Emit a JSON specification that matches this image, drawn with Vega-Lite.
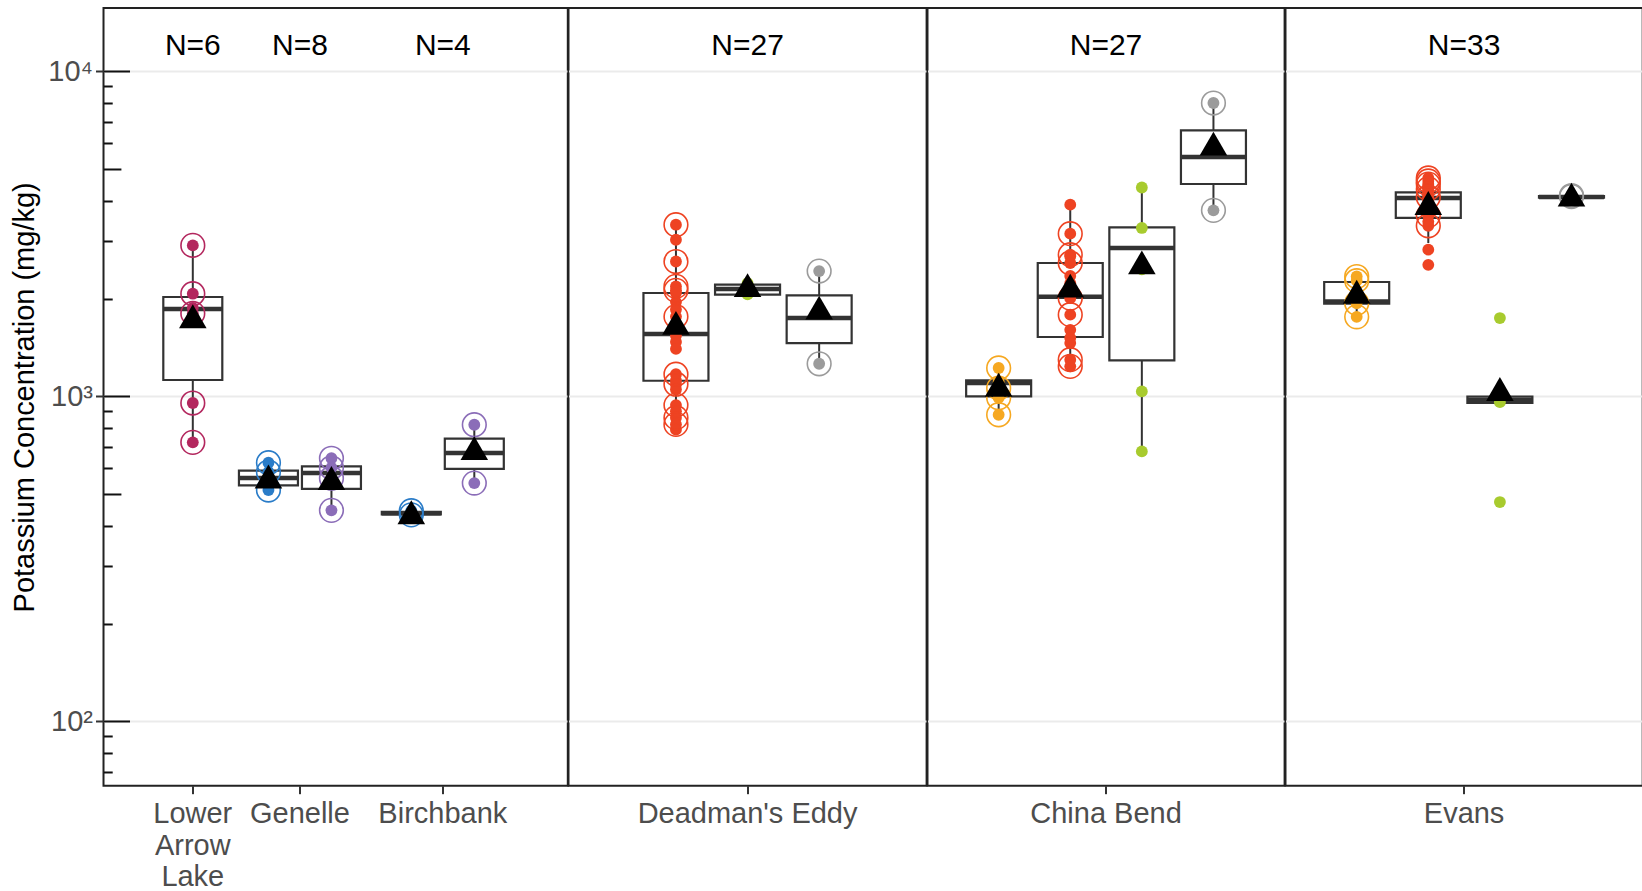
{
  "$schema": "https://vega.github.io/schema/vega-lite/v6.json",
  "background": "white",
  "padding": {"left": 9.5, "top": 7, "right": 0, "bottom": 0},
  "config": {
    "font": "Liberation Sans",
    "view": {"stroke": "#222222", "strokeWidth": 2},
    "axis": {"labelFont": "Liberation Sans", "titleFont": "Liberation Sans", "labelFontSize": 29, "labelColor": "#4D4D4D", "tickColor": "#333333", "tickWidth": 2, "gridColor": "#EBEBEB", "gridWidth": 2, "domain": false, "labelLimit": 500},
    "axisX": {"tickSize": 8, "labelPadding": 6, "labelLineHeight": 31.4, "labelAngle": 0, "grid": false},
    "legend": {"disable": true}
  },
  "datasets": {
    "points": [
      {"site": "Lower Arrow Lake", "group": "A", "value": 2915, "flag": "yes"},
      {"site": "Lower Arrow Lake", "group": "A", "value": 2070, "flag": "yes"},
      {"site": "Lower Arrow Lake", "group": "A", "value": 1871, "flag": "no"},
      {"site": "Lower Arrow Lake", "group": "A", "value": 1800, "flag": "yes"},
      {"site": "Lower Arrow Lake", "group": "A", "value": 954, "flag": "yes"},
      {"site": "Lower Arrow Lake", "group": "A", "value": 722, "flag": "yes"},
      {"site": "Genelle", "group": "B", "value": 625, "flag": "yes"},
      {"site": "Genelle", "group": "B", "value": 585, "flag": "yes"},
      {"site": "Genelle", "group": "B", "value": 545, "flag": "no"},
      {"site": "Genelle", "group": "B", "value": 515, "flag": "yes"},
      {"site": "Genelle", "group": "C", "value": 645, "flag": "yes"},
      {"site": "Genelle", "group": "C", "value": 603, "flag": "yes"},
      {"site": "Genelle", "group": "C", "value": 560, "flag": "yes"},
      {"site": "Genelle", "group": "C", "value": 446, "flag": "yes"},
      {"site": "Birchbank", "group": "B", "value": 445, "flag": "yes"},
      {"site": "Birchbank", "group": "B", "value": 432, "flag": "yes"},
      {"site": "Birchbank", "group": "C", "value": 818, "flag": "yes"},
      {"site": "Birchbank", "group": "C", "value": 541, "flag": "yes"},
      {"site": "Deadman's Eddy", "group": "E", "value": 3375, "flag": "yes"},
      {"site": "Deadman's Eddy", "group": "E", "value": 3034, "flag": "no"},
      {"site": "Deadman's Eddy", "group": "E", "value": 2600, "flag": "yes"},
      {"site": "Deadman's Eddy", "group": "E", "value": 2180, "flag": "yes"},
      {"site": "Deadman's Eddy", "group": "E", "value": 2120, "flag": "yes"},
      {"site": "Deadman's Eddy", "group": "E", "value": 2080, "flag": "no"},
      {"site": "Deadman's Eddy", "group": "E", "value": 1950, "flag": "no"},
      {"site": "Deadman's Eddy", "group": "E", "value": 1850, "flag": "no"},
      {"site": "Deadman's Eddy", "group": "E", "value": 1760, "flag": "yes"},
      {"site": "Deadman's Eddy", "group": "E", "value": 1620, "flag": "no"},
      {"site": "Deadman's Eddy", "group": "E", "value": 1540, "flag": "no"},
      {"site": "Deadman's Eddy", "group": "E", "value": 1470, "flag": "no"},
      {"site": "Deadman's Eddy", "group": "E", "value": 1400, "flag": "no"},
      {"site": "Deadman's Eddy", "group": "E", "value": 1170, "flag": "yes"},
      {"site": "Deadman's Eddy", "group": "E", "value": 1120, "flag": "no"},
      {"site": "Deadman's Eddy", "group": "E", "value": 1090, "flag": "yes"},
      {"site": "Deadman's Eddy", "group": "E", "value": 1050, "flag": "no"},
      {"site": "Deadman's Eddy", "group": "E", "value": 940, "flag": "yes"},
      {"site": "Deadman's Eddy", "group": "E", "value": 900, "flag": "no"},
      {"site": "Deadman's Eddy", "group": "E", "value": 860, "flag": "yes"},
      {"site": "Deadman's Eddy", "group": "E", "value": 820, "flag": "yes"},
      {"site": "Deadman's Eddy", "group": "E", "value": 790, "flag": "no"},
      {"site": "Deadman's Eddy", "group": "F", "value": 2230, "flag": "no"},
      {"site": "Deadman's Eddy", "group": "F", "value": 2130, "flag": "no"},
      {"site": "Deadman's Eddy", "group": "F", "value": 2060, "flag": "no"},
      {"site": "Deadman's Eddy", "group": "G", "value": 2430, "flag": "yes"},
      {"site": "Deadman's Eddy", "group": "G", "value": 1260, "flag": "yes"},
      {"site": "China Bend", "group": "D", "value": 1223, "flag": "yes"},
      {"site": "China Bend", "group": "D", "value": 1110, "flag": "no"},
      {"site": "China Bend", "group": "D", "value": 1060, "flag": "yes"},
      {"site": "China Bend", "group": "D", "value": 990, "flag": "yes"},
      {"site": "China Bend", "group": "D", "value": 878, "flag": "yes"},
      {"site": "China Bend", "group": "E", "value": 3890, "flag": "no"},
      {"site": "China Bend", "group": "E", "value": 3167, "flag": "yes"},
      {"site": "China Bend", "group": "E", "value": 2729, "flag": "yes"},
      {"site": "China Bend", "group": "E", "value": 2697, "flag": "no"},
      {"site": "China Bend", "group": "E", "value": 2573, "flag": "yes"},
      {"site": "China Bend", "group": "E", "value": 2346, "flag": "no"},
      {"site": "China Bend", "group": "E", "value": 2230, "flag": "no"},
      {"site": "China Bend", "group": "E", "value": 2034, "flag": "no"},
      {"site": "China Bend", "group": "E", "value": 2006, "flag": "yes"},
      {"site": "China Bend", "group": "E", "value": 1784, "flag": "yes"},
      {"site": "China Bend", "group": "E", "value": 1602, "flag": "no"},
      {"site": "China Bend", "group": "E", "value": 1513, "flag": "no"},
      {"site": "China Bend", "group": "E", "value": 1459, "flag": "no"},
      {"site": "China Bend", "group": "E", "value": 1297, "flag": "yes"},
      {"site": "China Bend", "group": "E", "value": 1237, "flag": "yes"},
      {"site": "China Bend", "group": "F", "value": 4393, "flag": "no"},
      {"site": "China Bend", "group": "F", "value": 3298, "flag": "no"},
      {"site": "China Bend", "group": "F", "value": 2460, "flag": "no"},
      {"site": "China Bend", "group": "F", "value": 1036, "flag": "no"},
      {"site": "China Bend", "group": "F", "value": 677, "flag": "no"},
      {"site": "China Bend", "group": "G", "value": 7993, "flag": "yes"},
      {"site": "China Bend", "group": "G", "value": 3736, "flag": "yes"},
      {"site": "Evans", "group": "D", "value": 2338, "flag": "yes"},
      {"site": "Evans", "group": "D", "value": 2270, "flag": "yes"},
      {"site": "Evans", "group": "D", "value": 2044, "flag": "no"},
      {"site": "Evans", "group": "D", "value": 1935, "flag": "yes"},
      {"site": "Evans", "group": "D", "value": 1757, "flag": "yes"},
      {"site": "Evans", "group": "E", "value": 4700, "flag": "yes"},
      {"site": "Evans", "group": "E", "value": 4600, "flag": "yes"},
      {"site": "Evans", "group": "E", "value": 4500, "flag": "yes"},
      {"site": "Evans", "group": "E", "value": 4450, "flag": "no"},
      {"site": "Evans", "group": "E", "value": 4400, "flag": "no"},
      {"site": "Evans", "group": "E", "value": 4350, "flag": "yes"},
      {"site": "Evans", "group": "E", "value": 4300, "flag": "no"},
      {"site": "Evans", "group": "E", "value": 4250, "flag": "no"},
      {"site": "Evans", "group": "E", "value": 4200, "flag": "no"},
      {"site": "Evans", "group": "E", "value": 4150, "flag": "no"},
      {"site": "Evans", "group": "E", "value": 4100, "flag": "yes"},
      {"site": "Evans", "group": "E", "value": 4050, "flag": "no"},
      {"site": "Evans", "group": "E", "value": 4000, "flag": "no"},
      {"site": "Evans", "group": "E", "value": 3900, "flag": "no"},
      {"site": "Evans", "group": "E", "value": 3800, "flag": "no"},
      {"site": "Evans", "group": "E", "value": 3600, "flag": "yes"},
      {"site": "Evans", "group": "E", "value": 3450, "flag": "no"},
      {"site": "Evans", "group": "E", "value": 3350, "flag": "yes"},
      {"site": "Evans", "group": "E", "value": 2828, "flag": "no"},
      {"site": "Evans", "group": "E", "value": 2540, "flag": "no"},
      {"site": "Evans", "group": "F", "value": 1742, "flag": "no"},
      {"site": "Evans", "group": "F", "value": 1000, "flag": "no"},
      {"site": "Evans", "group": "F", "value": 985, "flag": "no"},
      {"site": "Evans", "group": "F", "value": 960, "flag": "no"},
      {"site": "Evans", "group": "F", "value": 473, "flag": "no"},
      {"site": "Evans", "group": "G", "value": 4150, "flag": "yes"},
      {"site": "Evans", "group": "G", "value": 4120, "flag": "yes"},
      {"site": "Evans", "group": "G", "value": 4080, "flag": "no"}
    ],
    "boxes": [
      {"site": "Lower Arrow Lake", "group": "A", "lower": 727, "q1": 1123, "median": 1858, "q3": 2022, "upper": 2915, "mean": 1765},
      {"site": "Genelle", "group": "B", "lower": 515, "q1": 532, "median": 561, "q3": 591, "upper": 625, "mean": 567},
      {"site": "Genelle", "group": "C", "lower": 446, "q1": 519, "median": 581, "q3": 609, "upper": 645, "mean": 561},
      {"site": "Birchbank", "group": "B", "lower": 430, "q1": 433, "median": 437, "q3": 441, "upper": 445, "mean": 440},
      {"site": "Birchbank", "group": "C", "lower": 541, "q1": 598, "median": 670, "q3": 741, "upper": 818, "mean": 693},
      {"site": "Deadman's Eddy", "group": "E", "lower": 790, "q1": 1117, "median": 1556, "q3": 2080, "upper": 3375, "mean": 1683},
      {"site": "Deadman's Eddy", "group": "F", "lower": 2050, "q1": 2055, "median": 2141, "q3": 2207, "upper": 2230, "mean": 2200},
      {"site": "Deadman's Eddy", "group": "G", "lower": 1260, "q1": 1459, "median": 1742, "q3": 2046, "upper": 2430, "mean": 1875},
      {"site": "China Bend", "group": "D", "lower": 878, "q1": 1000, "median": 1099, "q3": 1120, "upper": 1223, "mean": 1086},
      {"site": "China Bend", "group": "E", "lower": 1252, "q1": 1523, "median": 2027, "q3": 2573, "upper": 3890, "mean": 2191},
      {"site": "China Bend", "group": "F", "lower": 686, "q1": 1291, "median": 2862, "q3": 3311, "upper": 4374, "mean": 2584},
      {"site": "China Bend", "group": "G", "lower": 3736, "q1": 4503, "median": 5454, "q3": 6584, "upper": 7993, "mean": 5992},
      {"site": "Evans", "group": "D", "lower": 1757, "q1": 1929, "median": 1960, "q3": 2249, "upper": 2338, "mean": 2099},
      {"site": "Evans", "group": "E", "lower": 2965, "q1": 3540, "median": 4078, "q3": 4243, "upper": 4600, "mean": 3936},
      {"site": "Evans", "group": "F", "lower": 952, "q1": 955, "median": 975, "q3": 998, "upper": 1000, "mean": 1054},
      {"site": "Evans", "group": "G", "lower": 4080, "q1": 4090, "median": 4110, "q3": 4130, "upper": 4150, "mean": 4175}
    ],
    "counts": [
      {"site": "Lower Arrow Lake", "label": "N=6"},
      {"site": "Genelle", "label": "N=8"},
      {"site": "Birchbank", "label": "N=4"},
      {"site": "Deadman's Eddy", "label": "N=27"},
      {"site": "China Bend", "label": "N=27"},
      {"site": "Evans", "label": "N=33"}
    ]
  },
  "spacing": 0,
  "bounds": "flush",
  "resolve": {"scale": {"xOffset": "independent", "x": "independent"}},
  "hconcat": [
    {
      "width": 464.3,
      "height": 777.7,
      "resolve": {"axis": {"y": "independent"}},
      "layer": [
        {
          "layer": [
            {
              "data": {"name": "boxes"},
              "transform": [{"filter": {"field": "site", "oneOf": ["Lower Arrow Lake", "Genelle", "Birchbank"]}}],
              "mark": {"type": "rule", "color": "#333333", "strokeWidth": 2},
              "encoding": {
                "x": {"field": "site", "type": "nominal", "title": null, "scale": {"domain": ["_a", "_b", "Lower Arrow Lake", "_1", "_2", "Genelle", "_3", "_4", "_5", "Birchbank", "_c", "_d", "_e"], "paddingInner": 0, "paddingOuter": 0, "round": false}, "axis": {"values": ["Lower Arrow Lake", "Genelle", "Birchbank"], "labelExpr": "datum.label == 'Lower Arrow Lake' ? ['Lower', 'Arrow', 'Lake'] : datum.label"}},
                "xOffset": {"field": "group", "type": "nominal", "scale": {"domain": ["B", "A", "C"], "range": [-29.39, 65.11], "paddingInner": 0, "paddingOuter": 0, "round": false}},
                "y": {"field": "lower", "type": "quantitative", "title": "Potassium Concentration (mg/kg)", "scale": {"type": "log", "domain": [63.4, 15670], "nice": false}, "axis": {"values": [100, 1000, 10000], "labelExpr": "datum.value == 10000 ? '10⁴' : (datum.value == 1000 ? '10³' : '10²')", "tickSize": 8, "grid": true, "labelPadding": 3, "titleFontSize": 29, "titleColor": "black", "titleFontWeight": "normal", "titlePadding": 8}},
                "y2": {"field": "upper"}
              }
            },
            {
              "data": {"name": "boxes"},
              "transform": [{"filter": {"field": "site", "oneOf": ["Lower Arrow Lake", "Genelle", "Birchbank"]}}],
              "mark": {"type": "bar", "fill": "white", "stroke": "#333333", "strokeWidth": 2.2, "size": 59},
              "encoding": {
                "x": {"field": "site", "type": "nominal", "title": null},
                "xOffset": {"field": "group", "type": "nominal"},
                "y": {"field": "q1", "type": "quantitative", "title": "Potassium Concentration (mg/kg)"},
                "y2": {"field": "q3"}
              }
            },
            {
              "data": {"name": "boxes"},
              "transform": [{"filter": {"field": "site", "oneOf": ["Lower Arrow Lake", "Genelle", "Birchbank"]}}],
              "mark": {"type": "tick", "color": "#333333", "thickness": 4.5, "size": 59, "opacity": 1},
              "encoding": {
                "x": {"field": "site", "type": "nominal", "title": null},
                "xOffset": {"field": "group", "type": "nominal"},
                "y": {"field": "median", "type": "quantitative", "title": "Potassium Concentration (mg/kg)"}
              }
            },
            {
              "data": {"name": "points"},
              "transform": [{"filter": {"field": "site", "oneOf": ["Lower Arrow Lake", "Genelle", "Birchbank"]}}],
              "mark": {"type": "point", "shape": "circle", "filled": true, "size": 140, "opacity": 1},
              "encoding": {
                "x": {"field": "site", "type": "nominal", "title": null},
                "xOffset": {"field": "group", "type": "nominal"},
                "y": {"field": "value", "type": "quantitative", "title": "Potassium Concentration (mg/kg)"},
                "color": {"field": "group", "type": "nominal", "scale": {"domain": ["A", "B", "C", "D", "E", "F", "G"], "range": ["#B3275E", "#2A7CC8", "#8B6DB8", "#F6A821", "#EE4322", "#A8CB2E", "#9B9B9B"]}}
              }
            },
            {
              "data": {"name": "points"},
              "transform": [{"filter": {"field": "site", "oneOf": ["Lower Arrow Lake", "Genelle", "Birchbank"]}}, {"filter": "datum.flag == 'yes'"}],
              "mark": {"type": "point", "shape": "circle", "filled": false, "size": 560, "strokeWidth": 1.6, "opacity": 1},
              "encoding": {
                "x": {"field": "site", "type": "nominal", "title": null},
                "xOffset": {"field": "group", "type": "nominal"},
                "y": {"field": "value", "type": "quantitative", "title": "Potassium Concentration (mg/kg)"},
                "color": {"field": "group", "type": "nominal"}
              }
            },
            {
              "data": {"name": "boxes"},
              "transform": [{"filter": {"field": "site", "oneOf": ["Lower Arrow Lake", "Genelle", "Birchbank"]}}],
              "mark": {"type": "point", "shape": "triangle-up", "filled": true, "color": "black", "size": 760, "opacity": 1},
              "encoding": {
                "x": {"field": "site", "type": "nominal", "title": null},
                "xOffset": {"field": "group", "type": "nominal"},
                "y": {"field": "mean", "type": "quantitative", "title": "Potassium Concentration (mg/kg)"}
              }
            }
          ]
        },
        {
          "data": {"name": "counts"},
          "transform": [{"filter": {"field": "site", "oneOf": ["Lower Arrow Lake", "Genelle", "Birchbank"]}}],
          "mark": {"type": "text", "fontSize": 30, "color": "black", "font": "Liberation Sans", "baseline": "middle", "align": "center"},
          "encoding": {
            "x": {"field": "site", "type": "nominal", "title": null},
            "y": {"datum": 12000, "type": "quantitative", "title": null, "axis": {"orient": "left", "values": [70, 80, 90, 100, 200, 300, 400, 500, 600, 700, 800, 900, 1000, 2000, 3000, 4000, 5000, 6000, 7000, 8000, 9000, 10000], "labels": false, "grid": false, "domain": false, "title": null, "tickColor": "#111111", "tickWidth": 2, "tickSize": {"condition": [{"test": "datum.value == 100 || datum.value == 1000 || datum.value == 10000", "value": -26}, {"test": "datum.value == 500 || datum.value == 5000", "value": -17.4}], "value": -8.7}}},
            "text": {"field": "label", "type": "nominal"}
          }
        }
      ]
    },
    {
      "width": 358.1,
      "height": 777.7,
      "layer": [
        {
          "data": {"name": "boxes"},
          "transform": [{"filter": {"field": "site", "equal": "Deadman's Eddy"}}],
          "mark": {"type": "rule", "color": "#333333", "strokeWidth": 2},
          "encoding": {
            "x": {"field": "site", "type": "nominal", "title": null, "scale": {"domain": ["Deadman's Eddy"], "paddingInner": 0, "paddingOuter": 0, "round": false}},
            "xOffset": {"field": "group", "type": "nominal", "scale": {"domain": ["E", "F", "G"], "range": [71.65, 286.45], "paddingInner": 0, "paddingOuter": 0, "round": false}},
            "y": {"field": "lower", "type": "quantitative", "title": null, "scale": {"type": "log", "domain": [63.4, 15670], "nice": false}, "axis": {"values": [100, 1000, 10000], "labels": false, "ticks": false, "grid": true, "title": null}},
            "y2": {"field": "upper"}
          }
        },
        {
          "data": {"name": "boxes"},
          "transform": [{"filter": {"field": "site", "equal": "Deadman's Eddy"}}],
          "mark": {"type": "bar", "fill": "white", "stroke": "#333333", "strokeWidth": 2.2, "size": 65},
          "encoding": {
            "x": {"field": "site", "type": "nominal", "title": null},
            "xOffset": {"field": "group", "type": "nominal"},
            "y": {"field": "q1", "type": "quantitative", "title": null},
            "y2": {"field": "q3"}
          }
        },
        {
          "data": {"name": "boxes"},
          "transform": [{"filter": {"field": "site", "equal": "Deadman's Eddy"}}],
          "mark": {"type": "tick", "color": "#333333", "thickness": 4.5, "size": 65, "opacity": 1},
          "encoding": {
            "x": {"field": "site", "type": "nominal", "title": null},
            "xOffset": {"field": "group", "type": "nominal"},
            "y": {"field": "median", "type": "quantitative", "title": null}
          }
        },
        {
          "data": {"name": "points"},
          "transform": [{"filter": {"field": "site", "equal": "Deadman's Eddy"}}],
          "mark": {"type": "point", "shape": "circle", "filled": true, "size": 140, "opacity": 1},
          "encoding": {
            "x": {"field": "site", "type": "nominal", "title": null},
            "xOffset": {"field": "group", "type": "nominal"},
            "y": {"field": "value", "type": "quantitative", "title": null},
            "color": {"field": "group", "type": "nominal"}
          }
        },
        {
          "data": {"name": "points"},
          "transform": [{"filter": {"field": "site", "equal": "Deadman's Eddy"}}, {"filter": "datum.flag == 'yes'"}],
          "mark": {"type": "point", "shape": "circle", "filled": false, "size": 560, "strokeWidth": 1.6, "opacity": 1},
          "encoding": {
            "x": {"field": "site", "type": "nominal", "title": null},
            "xOffset": {"field": "group", "type": "nominal"},
            "y": {"field": "value", "type": "quantitative", "title": null},
            "color": {"field": "group", "type": "nominal"}
          }
        },
        {
          "data": {"name": "boxes"},
          "transform": [{"filter": {"field": "site", "equal": "Deadman's Eddy"}}],
          "mark": {"type": "point", "shape": "triangle-up", "filled": true, "color": "black", "size": 760, "opacity": 1},
          "encoding": {
            "x": {"field": "site", "type": "nominal", "title": null},
            "xOffset": {"field": "group", "type": "nominal"},
            "y": {"field": "mean", "type": "quantitative", "title": null}
          }
        },
        {
          "data": {"name": "counts"},
          "transform": [{"filter": {"field": "site", "equal": "Deadman's Eddy"}}],
          "mark": {"type": "text", "fontSize": 30, "color": "black", "font": "Liberation Sans", "baseline": "middle", "align": "center"},
          "encoding": {
            "x": {"field": "site", "type": "nominal", "title": null},
            "y": {"datum": 12000, "type": "quantitative", "title": null},
            "text": {"field": "label", "type": "nominal"}
          }
        }
      ]
    },
    {
      "width": 357.1,
      "height": 777.7,
      "layer": [
        {
          "data": {"name": "boxes"},
          "transform": [{"filter": {"field": "site", "equal": "China Bend"}}],
          "mark": {"type": "rule", "color": "#333333", "strokeWidth": 2},
          "encoding": {
            "x": {"field": "site", "type": "nominal", "title": null, "scale": {"domain": ["China Bend"], "paddingInner": 0, "paddingOuter": 0, "round": false}},
            "xOffset": {"field": "group", "type": "nominal", "scale": {"domain": ["D", "E", "F", "G"], "range": [35.35, 321.75], "paddingInner": 0, "paddingOuter": 0, "round": false}},
            "y": {"field": "lower", "type": "quantitative", "title": null, "scale": {"type": "log", "domain": [63.4, 15670], "nice": false}, "axis": {"values": [100, 1000, 10000], "labels": false, "ticks": false, "grid": true, "title": null}},
            "y2": {"field": "upper"}
          }
        },
        {
          "data": {"name": "boxes"},
          "transform": [{"filter": {"field": "site", "equal": "China Bend"}}],
          "mark": {"type": "bar", "fill": "white", "stroke": "#333333", "strokeWidth": 2.2, "size": 65},
          "encoding": {
            "x": {"field": "site", "type": "nominal", "title": null},
            "xOffset": {"field": "group", "type": "nominal"},
            "y": {"field": "q1", "type": "quantitative", "title": null},
            "y2": {"field": "q3"}
          }
        },
        {
          "data": {"name": "boxes"},
          "transform": [{"filter": {"field": "site", "equal": "China Bend"}}],
          "mark": {"type": "tick", "color": "#333333", "thickness": 4.5, "size": 65, "opacity": 1},
          "encoding": {
            "x": {"field": "site", "type": "nominal", "title": null},
            "xOffset": {"field": "group", "type": "nominal"},
            "y": {"field": "median", "type": "quantitative", "title": null}
          }
        },
        {
          "data": {"name": "points"},
          "transform": [{"filter": {"field": "site", "equal": "China Bend"}}],
          "mark": {"type": "point", "shape": "circle", "filled": true, "size": 140, "opacity": 1},
          "encoding": {
            "x": {"field": "site", "type": "nominal", "title": null},
            "xOffset": {"field": "group", "type": "nominal"},
            "y": {"field": "value", "type": "quantitative", "title": null},
            "color": {"field": "group", "type": "nominal"}
          }
        },
        {
          "data": {"name": "points"},
          "transform": [{"filter": {"field": "site", "equal": "China Bend"}}, {"filter": "datum.flag == 'yes'"}],
          "mark": {"type": "point", "shape": "circle", "filled": false, "size": 560, "strokeWidth": 1.6, "opacity": 1},
          "encoding": {
            "x": {"field": "site", "type": "nominal", "title": null},
            "xOffset": {"field": "group", "type": "nominal"},
            "y": {"field": "value", "type": "quantitative", "title": null},
            "color": {"field": "group", "type": "nominal"}
          }
        },
        {
          "data": {"name": "boxes"},
          "transform": [{"filter": {"field": "site", "equal": "China Bend"}}],
          "mark": {"type": "point", "shape": "triangle-up", "filled": true, "color": "black", "size": 760, "opacity": 1},
          "encoding": {
            "x": {"field": "site", "type": "nominal", "title": null},
            "xOffset": {"field": "group", "type": "nominal"},
            "y": {"field": "mean", "type": "quantitative", "title": null}
          }
        },
        {
          "data": {"name": "counts"},
          "transform": [{"filter": {"field": "site", "equal": "China Bend"}}],
          "mark": {"type": "text", "fontSize": 30, "color": "black", "font": "Liberation Sans", "baseline": "middle", "align": "center"},
          "encoding": {
            "x": {"field": "site", "type": "nominal", "title": null},
            "y": {"datum": 12000, "type": "quantitative", "title": null},
            "text": {"field": "label", "type": "nominal"}
          }
        }
      ]
    },
    {
      "width": 357.2,
      "height": 777.7,
      "layer": [
        {
          "data": {"name": "boxes"},
          "transform": [{"filter": {"field": "site", "equal": "Evans"}}],
          "mark": {"type": "rule", "color": "#333333", "strokeWidth": 2},
          "encoding": {
            "x": {"field": "site", "type": "nominal", "title": null, "scale": {"domain": ["Evans"], "paddingInner": 0, "paddingOuter": 0, "round": false}},
            "xOffset": {"field": "group", "type": "nominal", "scale": {"domain": ["D", "E", "F", "G"], "range": [35.4, 321.8], "paddingInner": 0, "paddingOuter": 0, "round": false}},
            "y": {"field": "lower", "type": "quantitative", "title": null, "scale": {"type": "log", "domain": [63.4, 15670], "nice": false}, "axis": {"values": [100, 1000, 10000], "labels": false, "ticks": false, "grid": true, "title": null}},
            "y2": {"field": "upper"}
          }
        },
        {
          "data": {"name": "boxes"},
          "transform": [{"filter": {"field": "site", "equal": "Evans"}}],
          "mark": {"type": "bar", "fill": "white", "stroke": "#333333", "strokeWidth": 2.2, "size": 65},
          "encoding": {
            "x": {"field": "site", "type": "nominal", "title": null},
            "xOffset": {"field": "group", "type": "nominal"},
            "y": {"field": "q1", "type": "quantitative", "title": null},
            "y2": {"field": "q3"}
          }
        },
        {
          "data": {"name": "boxes"},
          "transform": [{"filter": {"field": "site", "equal": "Evans"}}],
          "mark": {"type": "tick", "color": "#333333", "thickness": 4.5, "size": 65, "opacity": 1},
          "encoding": {
            "x": {"field": "site", "type": "nominal", "title": null},
            "xOffset": {"field": "group", "type": "nominal"},
            "y": {"field": "median", "type": "quantitative", "title": null}
          }
        },
        {
          "data": {"name": "points"},
          "transform": [{"filter": {"field": "site", "equal": "Evans"}}],
          "mark": {"type": "point", "shape": "circle", "filled": true, "size": 140, "opacity": 1},
          "encoding": {
            "x": {"field": "site", "type": "nominal", "title": null},
            "xOffset": {"field": "group", "type": "nominal"},
            "y": {"field": "value", "type": "quantitative", "title": null},
            "color": {"field": "group", "type": "nominal"}
          }
        },
        {
          "data": {"name": "points"},
          "transform": [{"filter": {"field": "site", "equal": "Evans"}}, {"filter": "datum.flag == 'yes'"}],
          "mark": {"type": "point", "shape": "circle", "filled": false, "size": 560, "strokeWidth": 1.6, "opacity": 1},
          "encoding": {
            "x": {"field": "site", "type": "nominal", "title": null},
            "xOffset": {"field": "group", "type": "nominal"},
            "y": {"field": "value", "type": "quantitative", "title": null},
            "color": {"field": "group", "type": "nominal"}
          }
        },
        {
          "data": {"name": "boxes"},
          "transform": [{"filter": {"field": "site", "equal": "Evans"}}],
          "mark": {"type": "point", "shape": "triangle-up", "filled": true, "color": "black", "size": 760, "opacity": 1},
          "encoding": {
            "x": {"field": "site", "type": "nominal", "title": null},
            "xOffset": {"field": "group", "type": "nominal"},
            "y": {"field": "mean", "type": "quantitative", "title": null}
          }
        },
        {
          "data": {"name": "counts"},
          "transform": [{"filter": {"field": "site", "equal": "Evans"}}],
          "mark": {"type": "text", "fontSize": 30, "color": "black", "font": "Liberation Sans", "baseline": "middle", "align": "center"},
          "encoding": {
            "x": {"field": "site", "type": "nominal", "title": null},
            "y": {"datum": 12000, "type": "quantitative", "title": null},
            "text": {"field": "label", "type": "nominal"}
          }
        }
      ]
    }
  ]
}
